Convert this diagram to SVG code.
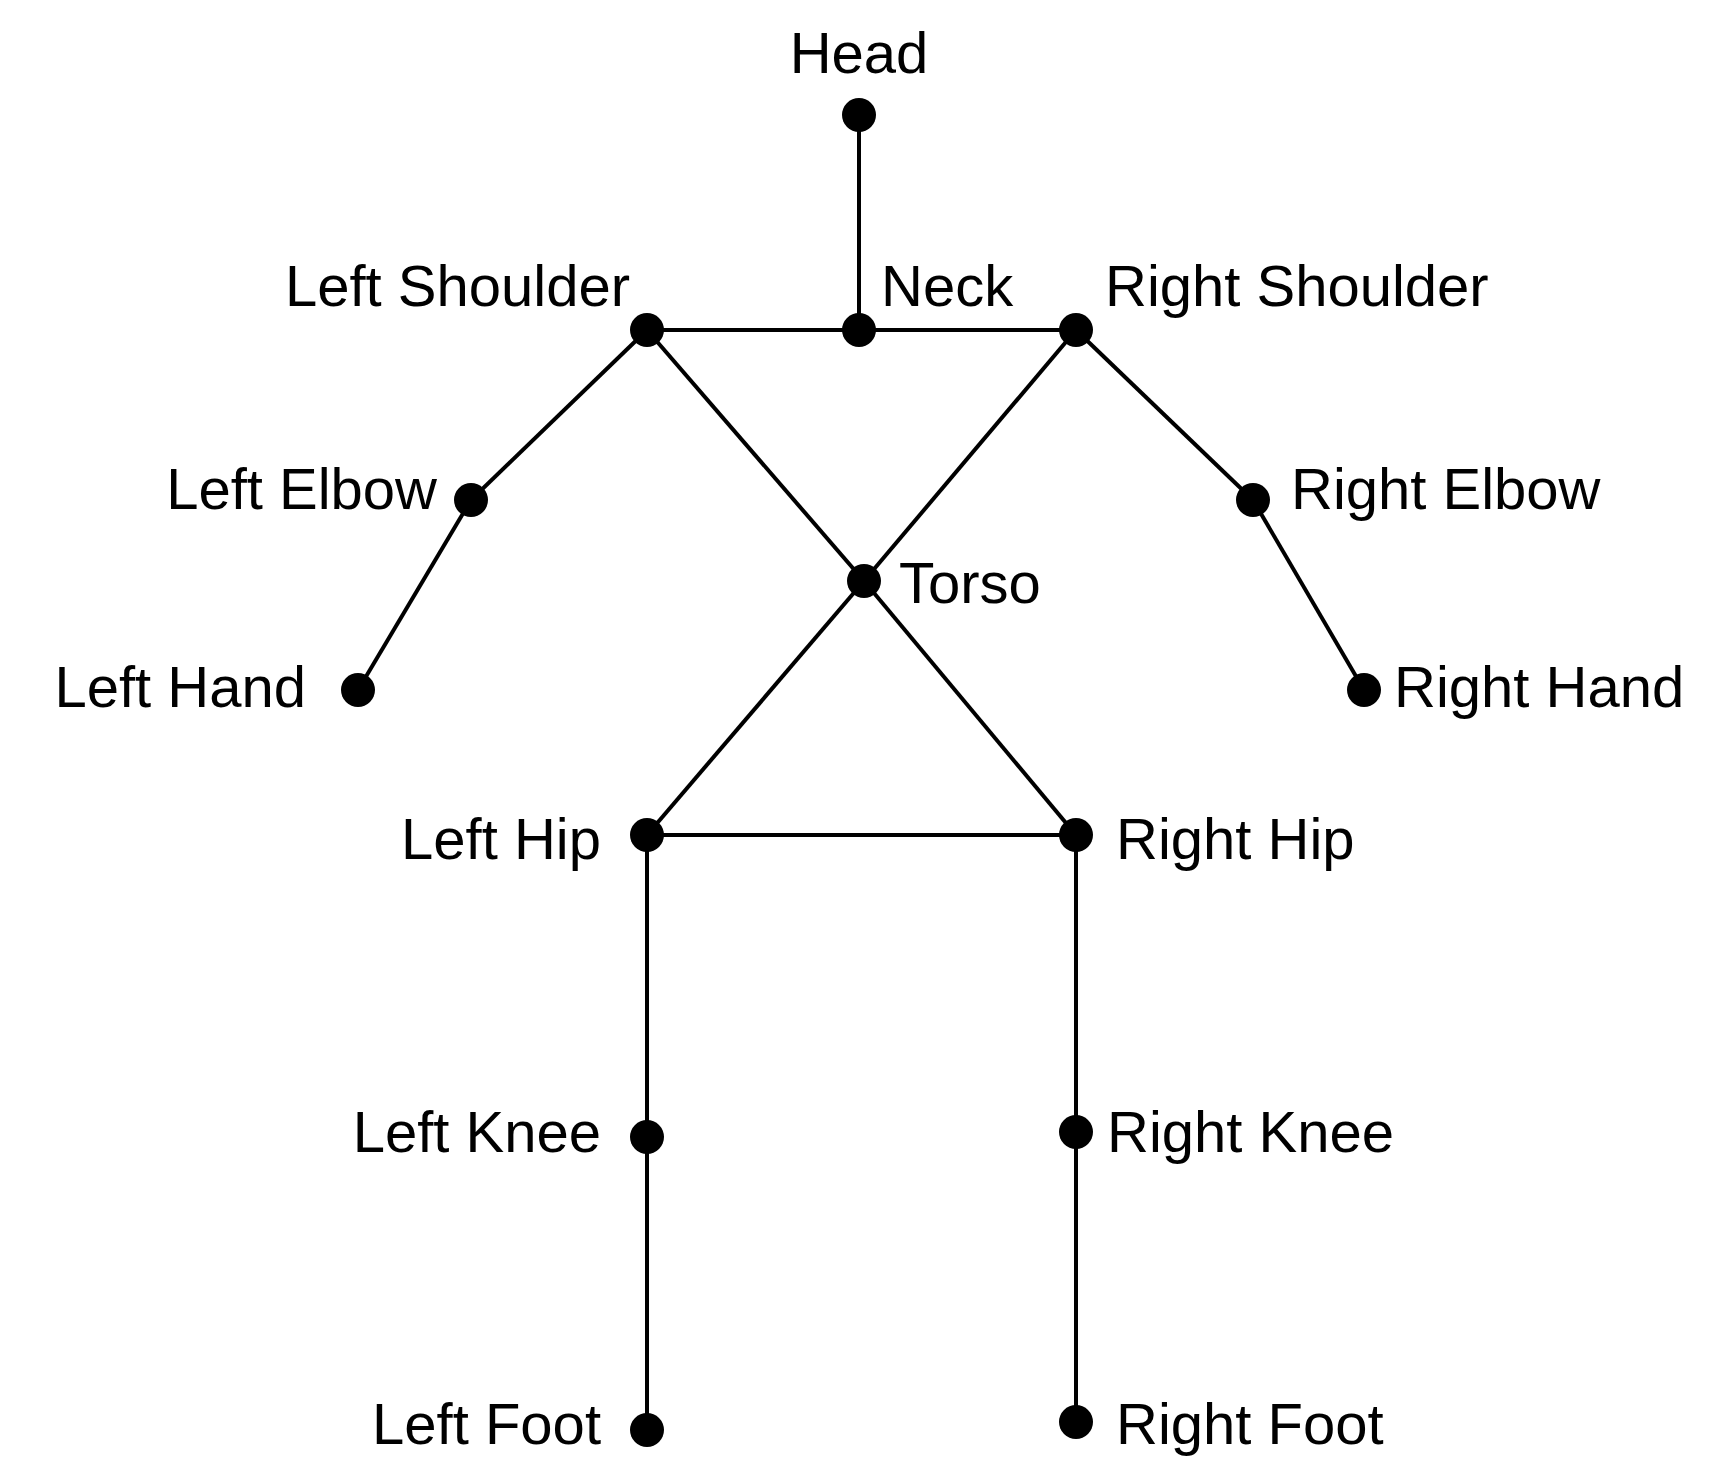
<svg xmlns="http://www.w3.org/2000/svg" width="1736" height="1475" viewBox="0 0 1736 1475">
<style>
.e{stroke:#000;stroke-width:4;fill:none}
.n{fill:#000}
text{font-family:"Liberation Sans",Arial,sans-serif;font-size:58px;fill:#000}
.m{text-anchor:middle}.r{text-anchor:end}
</style>
<rect width="1736" height="1475" fill="#fff"/>
<g id="connectors">
<line class="e" x1="859" y1="115" x2="859" y2="330"/>
<line class="e" x1="647" y1="330" x2="1076" y2="330"/>
<line class="e" x1="647" y1="330" x2="471" y2="500"/>
<line class="e" x1="471" y1="500" x2="358" y2="690"/>
<line class="e" x1="1076" y1="330" x2="1253" y2="500"/>
<line class="e" x1="1253" y1="500" x2="1364" y2="690"/>
<line class="e" x1="647" y1="330" x2="864" y2="581"/>
<line class="e" x1="1076" y1="330" x2="864" y2="581"/>
<line class="e" x1="864" y1="581" x2="647" y2="835"/>
<line class="e" x1="864" y1="581" x2="1076" y2="835"/>
<line class="e" x1="647" y1="835" x2="1076" y2="835"/>
<line class="e" x1="647" y1="835" x2="647" y2="1137"/>
<line class="e" x1="647" y1="1137" x2="647" y2="1430"/>
<line class="e" x1="1076" y1="835" x2="1076" y2="1132"/>
<line class="e" x1="1076" y1="1132" x2="1076" y2="1422"/>
</g>
<g id="head"><circle class="n" cx="859" cy="115" r="17"/><text class="m" x="859" y="73">Head</text></g>
<g id="neck"><circle class="n" cx="859" cy="330" r="17"/><text x="881" y="306">Neck</text></g>
<g id="left-shoulder"><circle class="n" cx="647" cy="330" r="17"/><text class="r" x="630" y="306">Left Shoulder</text></g>
<g id="right-shoulder"><circle class="n" cx="1076" cy="330" r="17"/><text x="1105" y="306">Right Shoulder</text></g>
<g id="left-elbow"><circle class="n" cx="471" cy="500" r="17"/><text class="r" x="437" y="509">Left Elbow</text></g>
<g id="right-elbow"><circle class="n" cx="1253" cy="500" r="17"/><text x="1291" y="509">Right Elbow</text></g>
<g id="left-hand"><circle class="n" cx="358" cy="690" r="17"/><text class="r" x="306" y="707">Left Hand</text></g>
<g id="right-hand"><circle class="n" cx="1364" cy="690" r="17"/><text x="1394" y="707">Right Hand</text></g>
<g id="torso"><circle class="n" cx="864" cy="581" r="17"/><text x="899" y="603">Torso</text></g>
<g id="left-hip"><circle class="n" cx="647" cy="835" r="17"/><text class="r" x="601" y="859">Left Hip</text></g>
<g id="right-hip"><circle class="n" cx="1076" cy="835" r="17"/><text x="1116" y="859">Right Hip</text></g>
<g id="left-knee"><circle class="n" cx="647" cy="1137" r="17"/><text class="r" x="601" y="1152">Left Knee</text></g>
<g id="right-knee"><circle class="n" cx="1076" cy="1132" r="17"/><text x="1107" y="1152">Right Knee</text></g>
<g id="left-foot"><circle class="n" cx="647" cy="1430" r="17"/><text class="r" x="601" y="1444">Left Foot</text></g>
<g id="right-foot"><circle class="n" cx="1076" cy="1422" r="17"/><text x="1116" y="1444">Right Foot</text></g>
</svg>
